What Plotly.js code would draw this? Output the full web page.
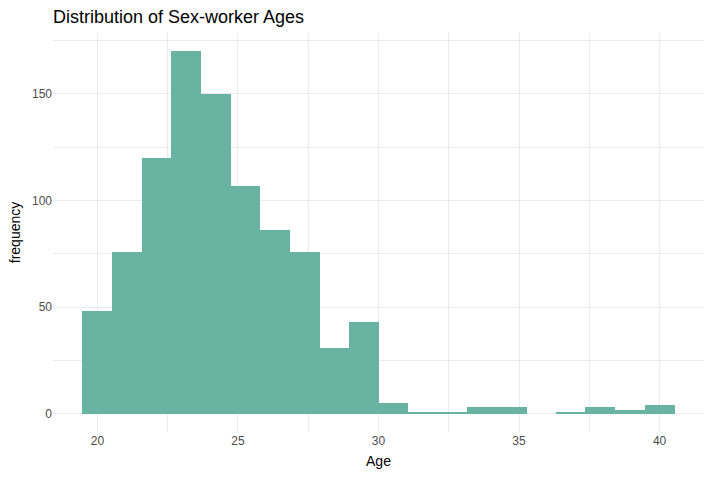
<!DOCTYPE html>
<html>
<head>
<meta charset="utf-8">
<script src="https://cdn.plot.ly/plotly-3.0.1.min.js"></script>
<style>html,body{margin:0;padding:0;background:#fff;}#chart{width:711px;height:477px;}</style>
</head>
<body>
<div id="chart"></div>
<script>
// Bin centres of the age histogram (20 bins, width 20/19 years)
const binCenters = [20.00, 21.05, 22.11, 23.16, 24.21, 25.26, 26.32, 27.37, 28.42, 29.47,
                    30.53, 31.58, 32.63, 33.68, 34.74, 35.79, 36.84, 37.89, 38.95, 40.00];
const binWidth = 1.0526;
// Frequencies
const frequency = [48, 76, 120, 170, 150, 107, 86, 76, 31, 43,
                   5, 1, 1, 3, 3, 0, 1, 3, 2, 4];
const xTicks = [20, 25, 30, 35, 40];
const yTicks = [0, 50, 100, 150];

const trace = {
  type: 'bar',
  x: binCenters,
  y: frequency,
  width: binCenters.map(() => binWidth + 0.012),
  marker: {color: '#69b3a2', line: {width: 0}},
  hoverinfo: 'x+y'
};

const font = '"Liberation Sans", Arial, sans-serif';
const layout = {
  width: 711, height: 477,
  margin: {l: 53, r: 7, t: 33, b: 45},
  paper_bgcolor: '#ffffff', plot_bgcolor: '#ffffff',
  font: {family: font, color: '#4d4d4d'},
  bargap: 0,
  showlegend: false,
  title: {text: 'Distribution of Sex-worker Ages', font: {family: font, size: 18, color: '#000000'},
          xref: 'paper', x: 0, xanchor: 'left', yref: 'container', y: 0.966, yanchor: 'middle'},
  xaxis: {
    range: [18.42, 41.58], tickvals: xTicks, ticks: '', showline: false, zeroline: false,
    showgrid: true, gridcolor: '#ebebeb', gridwidth: 1,
    minor: {dtick: 5, tick0: 22.5, showgrid: true, gridcolor: '#ebebeb', gridwidth: 1},
    tickfont: {size: 12, color: '#4d4d4d'},
    title: {text: 'Age', font: {size: 14, color: '#000000'}, standoff: 9}
  },
  yaxis: {
    range: [-8.5, 178.5], tickvals: yTicks, ticks: '', showline: false, zeroline: false,
    showgrid: true, gridcolor: '#ebebeb', gridwidth: 1,
    minor: {dtick: 50, tick0: 25, showgrid: true, gridcolor: '#ebebeb', gridwidth: 1},
    tickfont: {size: 12, color: '#4d4d4d'},
    title: {text: 'frequency', font: {size: 14, color: '#000000'}, standoff: 8}
  }
};

Plotly.newPlot('chart', [trace], layout, {displayModeBar: false, staticPlot: true});
</script>
</body>
</html>
